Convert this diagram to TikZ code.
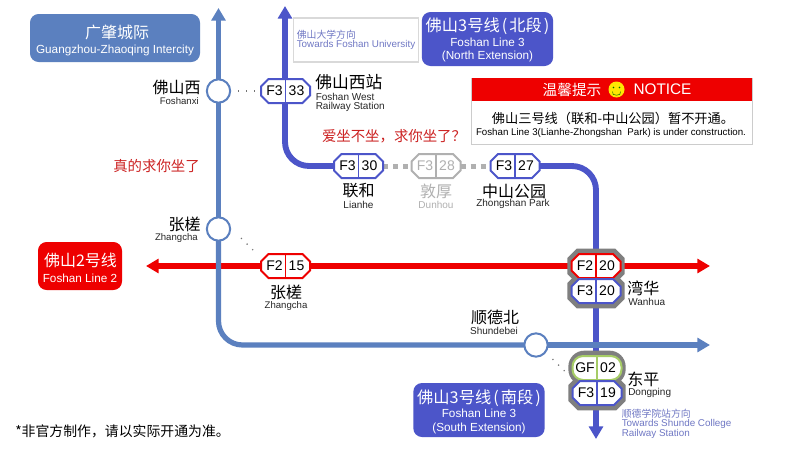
\documentclass[tikz,border=0pt]{standalone}
\usepackage{fontspec}
\setmainfont{Liberation Sans}
\newfontfamily\cjk{Noto Sans CJK SC}
\usetikzlibrary{backgrounds,arrows.meta}
\definecolor{lthree}{HTML}{4C55C9}
\definecolor{lic}{HTML}{5B80BF}
\definecolor{ltwo}{HTML}{EE0000}
\definecolor{lgf}{HTML}{A6CC66}
\definecolor{ggrey}{HTML}{7F7F7F}
\definecolor{offg}{HTML}{B0B0B0}
\definecolor{dirc}{HTML}{7078C4}
\definecolor{talk}{HTML}{CC2222}
\newcommand\fz[1]{\fontsize{#1}{#1}\selectfont}
\newdimen\octcut
\makeatletter
\pgfdeclareshape{octplate}{
  \inheritsavedanchors[from=rectangle]
  \inheritanchor[from=rectangle]{center}
  \inheritanchor[from=rectangle]{north}
  \inheritanchor[from=rectangle]{south}
  \inheritanchor[from=rectangle]{east}
  \inheritanchor[from=rectangle]{west}
  \inheritanchorborder[from=rectangle]
  \backgroundpath{
    \southwest \pgf@xa=\pgf@x \pgf@ya=\pgf@y
    \northeast \pgf@xb=\pgf@x \pgf@yb=\pgf@y
    \pgfpathmoveto{\pgfqpoint{\dimexpr\pgf@xa+\octcut}{\pgf@ya}}
    \pgfpathlineto{\pgfqpoint{\dimexpr\pgf@xb-\octcut}{\pgf@ya}}
    \pgfpathlineto{\pgfqpoint{\pgf@xb}{\dimexpr\pgf@ya+\octcut}}
    \pgfpathlineto{\pgfqpoint{\pgf@xb}{\dimexpr\pgf@yb-\octcut}}
    \pgfpathlineto{\pgfqpoint{\dimexpr\pgf@xb-\octcut}{\pgf@yb}}
    \pgfpathlineto{\pgfqpoint{\dimexpr\pgf@xa+\octcut}{\pgf@yb}}
    \pgfpathlineto{\pgfqpoint{\pgf@xa}{\dimexpr\pgf@yb-\octcut}}
    \pgfpathlineto{\pgfqpoint{\pgf@xa}{\dimexpr\pgf@ya+\octcut}}
    \pgfpathclose
  }
}
\makeatother
\tikzset{
  x=0.75pt,y=-0.75pt,
  plate/.style={octplate,minimum width=36.75pt,minimum height=18pt,inner sep=0pt,outer sep=0pt,fill=white,line width=1.5pt,/utils/exec={\octcut=5.6pt}},
  halo/.style={octplate,draw=none,fill=ggrey,minimum width=43pt,minimum height=26pt,inner sep=0pt,outer sep=0pt,/utils/exec={\octcut=7pt}},
  roundplate/.style={rectangle,rounded corners=8pt,minimum width=36.75pt,minimum height=18pt,inner sep=0pt,outer sep=0pt,fill=white,line width=1.5pt},
  roundhalo/.style={rectangle,rounded corners=12pt,draw=none,fill=ggrey,minimum width=43pt,minimum height=26pt,inner sep=0pt},
  code/.style={font=\fz{10.5},inner sep=0pt},
  hub/.style={circle,draw=lic,fill=white,line width=1.5pt,minimum size=17.5pt,inner sep=0pt,outer sep=0pt},
  line/.style={line width=3.9pt,rounded corners=18pt},
  lineThree/.style={line,lthree,line width=4.4pt},
  lineTwo/.style={line,ltwo,line width=4.2pt},
  tipped/.style={-{Triangle[length=9.5pt,width=10.5pt]}},
  ghost/.style={line width=3.75pt,draw=offg,dash pattern=on 3.75pt off 3.75pt},
  walk/.style={draw=black!55,line width=.9pt,dash pattern=on .9pt off 5.1pt},
  zh/.style={font=\cjk\fz{12},inner sep=0pt},
  en/.style={font=\fz{7.2},inner sep=0pt,text=black!85},
  legend/.style={rectangle,rounded corners=6.5pt,inner sep=0pt,outer sep=0pt},
  wh/.style={text=white,inner sep=0pt},
  dirtext/.style={text=dirc,inner sep=0pt,anchor=west},
  chat/.style={font=\cjk\fz{10.8},text=talk,inner sep=0pt},
}
\newcommand\stn[6]{% name,x,y,colour,left,right
  \node[plate,draw=#4] (#1) at (#2,#3) {};
  \draw[#4,line width=1pt] (#1.north) -- (#1.south);
  \node[code] (#1a) at (#2-11,#3) {#5};
  \node[code] (#1b) at (#2+11,#3) {#6};
}
\begin{document}
\begin{tikzpicture}
\useasboundingbox (0,0) rectangle (800,450);

% free ends
\coordinate (icTop) at (218.5,8);
\coordinate (icEnd) at (710,345);
\coordinate (n3Top) at (285,6);
\coordinate (s3End) at (596,439);
\coordinate (twoW) at (146,266);
\coordinate (twoE) at (710,266);
\coordinate (walkA1) at (238,91);
\coordinate (walkA2) at (255,91);
\coordinate (walkB1) at (241,238);
\coordinate (walkB2) at (253,250);
\coordinate (walkC1) at (552.5,359);
\coordinate (walkC2) at (564.5,371);

% hubs
\node[hub] (foshanxi) at (218.5,91) {};
\node[hub] (zhangcha) at (218.5,229) {};
\node[hub] (shundebei) at (536,345) {};

% interchange halos
\node[halo] (haloA) at (596,266) {};
\node[halo] (haloB) at (596,291) {};
\node[roundhalo] (haloC) at (597,368) {};
\node[halo] (haloD) at (597,393) {};

% stations
\stn{ftt}{285.5}{91}{lthree}{F3}{33}
\stn{fto}{358.5}{166}{lthree}{F3}{30}
\node[plate,draw=offg] (fte) at (436,166) {};
\draw[offg,line width=1pt] (fte.north) -- (fte.south);
\node[code,text=offg] (ftea) at (425,166) {F3};
\node[code,text=offg] (fteb) at (447,166) {28};
\stn{fts}{515}{166}{lthree}{F3}{27}
\stn{ftw}{285.5}{266}{ltwo}{F2}{15}
\stn{wa}{596}{266}{ltwo}{F2}{20}
\stn{wb}{596}{291}{lthree}{F3}{20}
\node[roundplate,draw=lgf] (gf) at (597,368) {};
\draw[lgf,line width=1pt] (gf.north) -- (gf.south);
\node[code] (gfa) at (585,368) {GF};
\node[code] (gfb) at (608,368) {02};
\stn{df}{597}{393}{lthree}{F3}{19}

\begin{scope}[on background layer]
  \fill[white] (0,0) rectangle (800,450);
  \draw[lineTwo,tipped] (wa) -- (twoE);
  \draw[lineTwo,tipped] (ftw) -- (twoW);
  \draw[lineTwo] (ftw) -- (wa);
  \draw[lineThree,tipped] (fto) -| (n3Top);
  \draw[lineThree] (fts) -| (wa);
  \draw[lineThree,tipped] (wa) -- (s3End);
  \draw[line,lic,tipped] (foshanxi) -- (icTop);
  \draw[line,lic] (foshanxi) -- (zhangcha);
  \draw[line,lic] (zhangcha) |- (shundebei);
  \draw[line,lic,tipped] (shundebei) -- (icEnd);
  \draw[ghost] (fto) -- (fte);
  \draw[ghost] (fte) -- (fts);
\end{scope}
\draw[walk] (walkA1) -- (walkA2);
\draw[walk] (walkB1) -- (walkB2);
\draw[walk] (walkC1) -- (walkC2);

% station names
\node[zh,anchor=east] (n1) at (201,87) {佛山西};
\node[en,anchor=east] (n2) at (199,101) {Foshanxi};
\node[zh,anchor=west,font=\cjk\fz{12.6}] (n3) at (315,82) {佛山西站};
\node[en,anchor=west,font=\fz{7.5}] (n4) at (315.5,96.5) {Foshan West};
\node[en,anchor=west,font=\fz{7.5}] (n5) at (315.5,106.5) {Railway Station};
\node[zh] (n6) at (358.5,191) {联和};
\node[en,font=\fz{7.5}] (n7) at (358.5,205) {Lianhe};
\node[zh,text=offg] (n8) at (436,191) {敦厚};
\node[en,font=\fz{7.5},text=offg] (n9) at (436,205) {Dunhou};
\node[zh] (n10) at (514,191) {中山公园};
\node[en,font=\fz{7.5}] (n11) at (513,204) {Zhongshan Park};
\node[zh,anchor=east] (n12) at (201,224) {张槎};
\node[en,anchor=east] (n13) at (198,238.5) {Zhangcha};
\node[zh] (n14) at (286,292) {张槎};
\node[en] (n15) at (286,306) {Zhangcha};
\node[zh,anchor=west] (n16) at (627,288) {湾华};
\node[en,anchor=west,font=\fz{7.5}] (n17) at (628,302) {Wanhua};
\node[zh] (n18) at (495,317) {顺德北};
\node[en,font=\fz{7.5}] (n19) at (494,331) {Shundebei};
\node[zh,anchor=west] (n20) at (627,379) {东平};
\node[en,anchor=west,font=\fz{7.5}] (n21) at (628,393) {Dongping};

% commentary
\node[chat] (c1) at (394,136) {爱坐不坐，求你坐了？};
\node[chat] (c2) at (156.5,166) {真的求你坐了};

% legends
\node[legend,fill=lic,minimum width=127.5pt,minimum height=36pt] (lgA) at (115,38) {};
\node[wh,font=\cjk\fz{12}] (lgA1) at (117,32) {广肇城际};
\node[wh,font=\fz{8.8}] (lgA2) at (115,50.5) {Guangzhou-Zhaoqing Intercity};

\node[rectangle,draw=black!15,fill=white,line width=.8pt,minimum width=94pt,minimum height=33pt,inner sep=0pt] (dirN) at (356,40) {};
\node[dirtext,font=\cjk\fz{7.4}] (dirN1) at (296.5,34.5) {佛山大学方向};
\node[dirtext,font=\fz{7.4}] (dirN2) at (296.5,44.5) {Towards Foshan University};

\node[legend,fill=lthree,minimum width=98.5pt,minimum height=40.5pt] (lgB) at (487.5,39) {};
\node[wh,font=\cjk\fz{12.2}] (lgB1) at (487.5,26) {佛山3号线\hskip1.5pt(\hskip1.5pt北段\hskip1.5pt)};
\node[wh,font=\fz{8.8}] (lgB2) at (487.5,42) {Foshan Line 3};
\node[wh,font=\fz{8.8}] (lgB3) at (487.5,56.5) {(North Extension)};

\node[legend,fill=ltwo,minimum width=63pt,minimum height=36pt] (lgC) at (80,266) {};
\node[wh,font=\cjk\fz{12}] (lgC1) at (80.5,260) {佛山2号线};
\node[wh,font=\fz{8.8}] (lgC2) at (80,278) {Foshan Line 2};

\node[legend,fill=lthree,minimum width=98.5pt,minimum height=40.5pt] (lgD) at (479,410) {};
\node[wh,font=\cjk\fz{12.2}] (lgD1) at (479,398) {佛山3号线\hskip1.5pt(\hskip1.5pt南段\hskip1.5pt)};
\node[wh,font=\fz{8.8}] (lgD2) at (479,413.5) {Foshan Line 3};
\node[wh,font=\fz{8.8}] (lgD3) at (479,428) {(South Extension)};

% notice
\node[rectangle,draw=black!20,fill=white,line width=.6pt,minimum width=210.5pt,minimum height=49.5pt,inner sep=0pt] (noteBox) at (612,111) {};
\node[rectangle,fill=ltwo,minimum width=210.5pt,minimum height=17.25pt,inner sep=0pt] (noteHead) at (612,89.5) {};
\node[wh,font=\cjk\fz{11}] (noteT) at (572,89.5) {温馨提示};
\node[circle,fill=yellow!90!orange,minimum size=12pt,inner sep=0pt] (smile) at (616.5,89.5) {};
\fill[black!60!green] (smile.center)+(-3,-2) circle (.6pt) (smile.center)+(3,-2) circle (.6pt);
\draw[black!60!green,line width=.35pt] (smile.center)+(-4,2) .. controls +(-2,5) and +(2,5) .. +(4,2);
\node[wh,font=\fz{11.5}] (noteN) at (662.5,89.5) {NOTICE};
\node[inner sep=0pt,font=\cjk\fz{9.9}] (noteA) at (613,118) {佛山三号线（联和-中山公园）暂不开通。};
\node[inner sep=0pt,font=\fz{7.3}] (noteB) at (611,132.5) {Foshan Line 3(Lianhe-Zhongshan\ \ Park) is under construction.};

% south direction
\node[dirtext,font=\cjk\fz{7.4}] (dirS1) at (621.5,413.5) {顺德学院站方向};
\node[dirtext,font=\fz{7.4}] (dirS2) at (621.5,423.5) {Towards Shunde College};
\node[dirtext,font=\fz{7.4}] (dirS3) at (621.5,433.5) {Railway Station};

% footnote
\node[inner sep=0pt,anchor=west,font=\cjk\fz{10.4}] (foot) at (15,431) {*非官方制作，请以实际开通为准。};
\end{tikzpicture}
\end{document}
